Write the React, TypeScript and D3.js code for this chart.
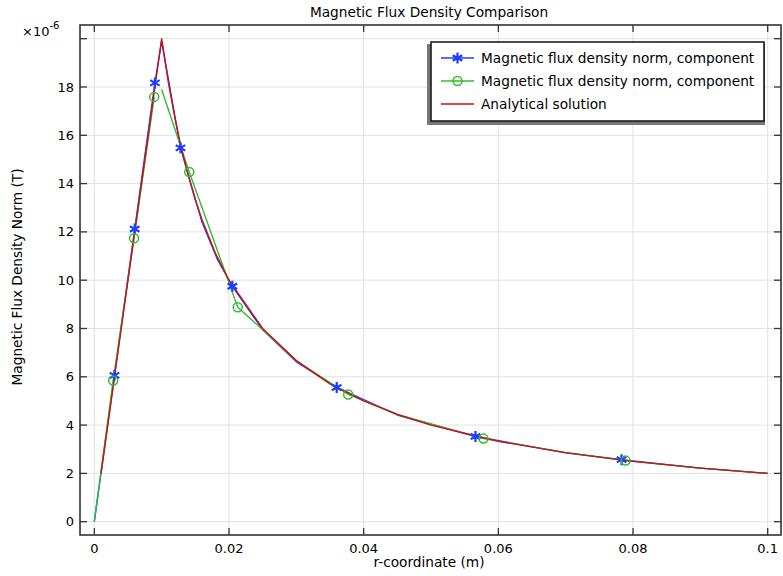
import React from 'react'
import * as d3 from 'd3'

// tick values
const xTicks = [0, 0.02, 0.04, 0.06, 0.08, 0.1]
const xTickLabels = ['0', '0.02', '0.04', '0.06', '0.08', '0.1']
const yTicks = [0, 2, 4, 6, 8, 10, 12, 14, 16, 18, 20]

// FEM component, blue (line vertices, markers at some of them)
const blueR = [0, 0.003, 0.006, 0.009, 0.01, 0.0128, 0.016, 0.0183, 0.0205, 0.025, 0.03, 0.036, 0.045, 0.0566, 0.07, 0.0783, 0.09, 0.1]
const blueB = [0, 6.06, 12.12, 18.17, 19.9, 15.48, 12.4, 10.85, 9.75, 7.95, 6.62, 5.56, 4.42, 3.53, 2.85, 2.57, 2.22, 2.0]
const blueMarks = [1, 2, 3, 5, 8, 11, 13, 15]

// FEM component, green (inner and outer domain pieces)
const greenInnerR = [0, 0.0028, 0.0059, 0.0089]
const greenInnerB = [0, 5.85, 11.74, 17.59]
const greenInnerMarks = [1, 2, 3]
const greenOuterR = [0.01, 0.0141, 0.0213, 0.025, 0.03, 0.0377, 0.045, 0.0578, 0.07, 0.0789, 0.09, 0.1]
const greenOuterB = [17.9, 14.48, 8.88, 7.95, 6.66, 5.27, 4.44, 3.44, 2.86, 2.53, 2.22, 2.0]
const greenOuterMarks = [1, 2, 5, 7, 9]

// analytical solution, red
const redR = [0.001, 0.002, 0.003, 0.004, 0.005, 0.006, 0.007, 0.008, 0.009, 0.01, 0.011, 0.012, 0.013, 0.014, 0.015, 0.016, 0.018, 0.02, 0.025, 0.03, 0.035, 0.04, 0.045, 0.05, 0.06, 0.07, 0.08, 0.09, 0.1]
const redB = [2, 4, 6, 8, 10, 12, 14, 16, 18, 20, 18.18, 16.67, 15.38, 14.29, 13.33, 12.5, 11.11, 10, 8, 6.67, 5.71, 5, 4.44, 4, 3.33, 2.86, 2.5, 2.22, 2]

const legendLabels = ['Magnetic flux density norm, component', 'Magnetic flux density norm, component', 'Analytical solution']

const BLUE = '#1f3cff'
const GREEN = '#33bb33'
const RED = '#cc1111'
const font = '"DejaVu Sans", sans-serif'
const fs = 13.7

const W = 783, H = 576
const left = 80, right = 781, top = 25, bottom = 535

const x = d3.scaleLinear().domain([0, 0.1]).range([94.3, 767.7])
const y = d3.scaleLinear().domain([0, 18]).range([521.7, 87])

const pts = (rs: number[], bs: number[]) => rs.map((r, i) => [r, bs[i]] as [number, number])
const line = d3.line<[number, number]>().x(d => x(d[0])).y(d => y(d[1]))

const Star = ({ cx, cy }: { cx: number, cy: number }) => {
  const r = 5.5
  const arms = [90, 30, 150].map(a => {
    const t = (a * Math.PI) / 180
    return `M${cx - r * Math.cos(t)},${cy - r * Math.sin(t)}L${cx + r * Math.cos(t)},${cy + r * Math.sin(t)}`
  })
  return <path d={arms.join('')} stroke={BLUE} strokeWidth={2.2} fill="none" />
}

const Ring = ({ cx, cy }: { cx: number, cy: number }) =>
  <circle cx={cx} cy={cy} r={4.5} stroke={GREEN} strokeWidth={1.5} fill="none" />

export default function App() {
  const blue = pts(blueR, blueB)
  const gIn = pts(greenInnerR, greenInnerB)
  const gOut = pts(greenOuterR, greenOuterB)
  const red = pts(redR, redB)

  return (
    <svg width={W} height={H} style={{ position: 'absolute', left: 0, top: 0, background: '#fff' }}>
      <rect width={W} height={H} fill="#fff" />
      <text x={429} y={17} textAnchor="middle" fontFamily={font} fontSize={fs}>Magnetic Flux Density Comparison</text>

      {/* grid */}
      {xTicks.map(t => <line key={'gx' + t} x1={x(t)} x2={x(t)} y1={top} y2={bottom} stroke="#e2e2e2" strokeWidth={1} />)}
      {yTicks.map(t => <line key={'gy' + t} x1={left} x2={right} y1={y(t)} y2={y(t)} stroke="#e2e2e2" strokeWidth={1} />)}

      <defs>
        <clipPath id="plot"><rect x={left} y={top} width={right - left} height={bottom - top} /></clipPath>
      </defs>
      <g clipPath="url(#plot)" fill="none" strokeWidth={1.4} strokeLinejoin="round">
        <path d={line(blue) || ''} stroke={BLUE} />
        <path d={line(gIn) || ''} stroke={GREEN} />
        <path d={line(gOut) || ''} stroke={GREEN} />
        <path d={line(red) || ''} stroke={RED} />
        {blueMarks.map(i => <Star key={'s' + i} cx={x(blueR[i])} cy={y(blueB[i])} />)}
        {greenInnerMarks.map(i => <Ring key={'ci' + i} cx={x(greenInnerR[i])} cy={y(greenInnerB[i])} />)}
        {greenOuterMarks.map(i => <Ring key={'co' + i} cx={x(greenOuterR[i])} cy={y(greenOuterB[i])} />)}
      </g>

      {/* frame and ticks */}
      <rect x={left} y={top} width={right - left} height={bottom - top} fill="none" stroke="#333" strokeWidth={1.6} />
      {xTicks.map(t => (
        <g key={'tx' + t} stroke="#333" strokeWidth={1.3}>
          <line x1={x(t)} x2={x(t)} y1={bottom} y2={bottom - 7} />
          <line x1={x(t)} x2={x(t)} y1={top} y2={top + 7} />
        </g>
      ))}
      {yTicks.map(t => (
        <g key={'ty' + t} stroke="#333" strokeWidth={1.3}>
          <line x1={left} x2={left + 7} y1={y(t)} y2={y(t)} />
          <line x1={right} x2={right - 7} y1={y(t)} y2={y(t)} />
        </g>
      ))}
      {xTicks.map((t, i) => (
        <text key={'lx' + t} x={x(t)} y={553} textAnchor="middle" fontFamily={font} fontSize={13}>{xTickLabels[i]}</text>
      ))}
      {yTicks.filter(t => t < 20).map(t => (
        <text key={'ly' + t} x={74} y={y(t) + 4.5} textAnchor="end" fontFamily={font} fontSize={13}>{t}</text>
      ))}
      <text x={22} y={36} fontFamily={font} fontSize={13}>×10<tspan dy={-7} fontSize={10}>-6</tspan></text>

      <text x={429} y={567} textAnchor="middle" fontFamily={font} fontSize={fs}>r-coordinate (m)</text>
      <text transform={`translate(22,${(top + bottom) / 2 - 3}) rotate(-90)`} textAnchor="middle" fontFamily={font} fontSize={fs}>Magnetic Flux Density Norm (T)</text>

      {/* legend */}
      <rect x={427} y={44} width={338} height={81} fill="#777" />
      <rect x={431} y={42} width={333} height={79} fill="#fff" stroke="#111" strokeWidth={1.5} />
      {legendLabels.map((lab, i) => {
        const cy = 58 + i * 23
        const col = [BLUE, GREEN, RED][i]
        return (
          <g key={'lg' + i}>
            <line x1={441} x2={474} y1={cy} y2={cy} stroke={col} strokeWidth={1.4} />
            {i === 0 && <Star cx={457.5} cy={cy} />}
            {i === 1 && <Ring cx={457.5} cy={cy} />}
            <text x={481} y={cy + 4.8} fontFamily={font} fontSize={fs}>{lab}</text>
          </g>
        )
      })}
    </svg>
  )
}
